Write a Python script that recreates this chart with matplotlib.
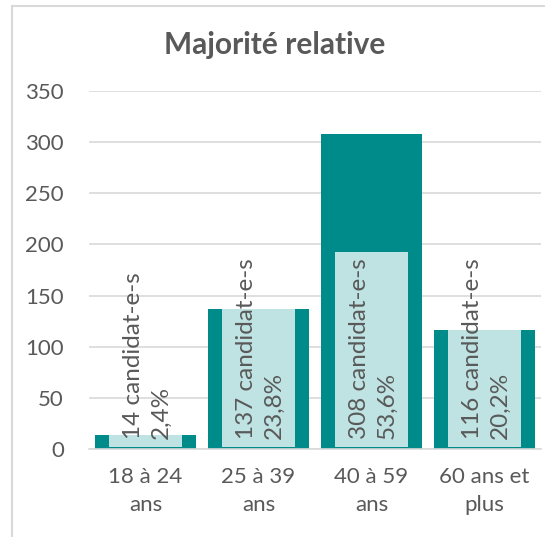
import numpy as np
import matplotlib.pyplot as plt
from matplotlib.lines import Line2D

plt.rcParams['font.family'] = ['Lato', 'DejaVu Sans']

# data
categories = ["18 à 24\nans", "25 à 39\nans", "40 à 59\nans", "60 ans et\nplus"]
counts = [14, 137, 308, 116]
percents = ["2,4%", "23,8%", "53,6%", "20,2%"]

teal = "#008b8b"
light = "#bfe2e2"
grey = "#595959"
grid = "#d9d9d9"

fig = plt.figure(figsize=(5.45, 5.37), dpi=100)
ax = fig.add_axes([89 / 545, 1 - 449 / 537, 452 / 545, 358 / 537])

x = np.arange(len(categories))
ax.bar(x, counts, width=0.9, color=teal, zorder=2)

# label boxes: the fill stops at the bar top or at the text length
box_h = 193
box_tops = [min(c, box_h) for c in counts]
ax.bar(x, np.array(box_tops) - 2, bottom=2, width=0.64, color=light, zorder=3)

for i, (c, p) in enumerate(zip(counts, percents)):
    ax.annotate(f"{c} candidat-e-s\n{p}", (x[i], 0), xytext=(1.5, 7),
                textcoords="offset points", rotation=90, ha="center", va="bottom",
                multialignment="left", fontsize=17.5, color=grey, zorder=4,
                linespacing=1.4)

ax.set_ylim(0, 350)
ax.set_xlim(-0.5, len(categories) - 0.5)
ax.set_yticks(range(0, 351, 50))
ax.set_xticks(x)
ax.set_xticklabels(categories, fontsize=16, color=grey, linespacing=1.5)
ax.tick_params(axis="y", labelsize=16, labelcolor=grey, length=0, pad=18)
ax.tick_params(axis="x", length=0, pad=13)
ax.yaxis.grid(True, color=grid, linewidth=1.2, zorder=0)
ax.set_axisbelow(True)
for s in ["top", "right", "left"]:
    ax.spines[s].set_visible(False)
ax.spines["bottom"].set_color(grid)
ax.spines["bottom"].set_linewidth(1.2)

fig.text(275 / 545, 1 - 45 / 537, "Majorité relative", ha="center", va="center",
         fontsize=21.5, fontweight="bold", color=grey)

# chart area border (cropped at right and bottom)
fig.add_artist(Line2D([12 / 545, 12 / 545], [0, 1 - 6 / 537], color=grid,
                      linewidth=1.5, transform=fig.transFigure))
fig.add_artist(Line2D([12 / 545, 1], [1 - 6 / 537, 1 - 6 / 537], color=grid,
                      linewidth=1.5, transform=fig.transFigure))

fig.savefig("out.png", dpi=100)
